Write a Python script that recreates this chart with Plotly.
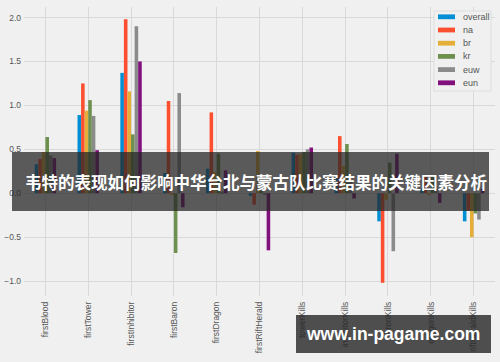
import plotly.graph_objects as go

categories = ["firstBlood", "firstTower", "firstInhibitor", "firstBaron", "firstDragon",
              "firstRiftHerald", "towerKills", "inhibitorKills", "baronKills",
              "dragonKills", "riftHeraldKills"]

series_names = ["overall", "na", "br", "kr", "euw", "eun"]
overall = [0.33, 0.89, 1.37, 0.23, 0.28, -0.03, 0.46, 0.18, -0.32, 0.05, -0.32]
na = [0.39, 1.25, 1.98, 1.05, 0.92, -0.13, 0.44, 0.65, -1.02, 0.21, -0.20]
br = [0.47, 0.94, 1.16, -0.02, 0.24, 0.48, 0.45, 0.31, -0.08, -0.02, -0.50]
kr = [0.64, 1.06, 0.67, -0.68, 0.45, 0.03, 0.47, 0.56, 0.35, 0.21, -0.23]
euw = [0.43, 0.88, 1.90, 1.14, 0.02, -0.02, 0.50, 0.15, -0.66, 0.05, -0.30]
eun = [0.40, 0.49, 1.50, -0.16, 0.26, -0.65, 0.52, -0.06, 0.45, -0.11, 0.05]
series_values = [overall, na, br, kr, euw, eun]
colors = ["#008fd5", "#fc4f30", "#e5ae38", "#6d904f", "#8b8b8b", "#810f7c"]

y_ticks = [-1.0, -0.5, 0.0, 0.5, 1.0, 1.5, 2.0]
banner_text = "韦特的表现如何影响中华台北与蒙古队比赛结果的关键因素分析"
watermark_text = "www.in-pagame.com"

W, H = 500, 362
ML, MR, MT, MB = 24, 5, 7, 66
PW = W - ML - MR
PH = H - MT - MB


def px(x):
    return (x - ML) / PW


def py(y):
    return (H - MB - y) / PH


fig = go.Figure()
for name, vals, col in zip(series_names, series_values, colors):
    fig.add_trace(go.Bar(x=categories, y=vals, name=name, marker_color=col,
                         marker_line_width=0, showlegend=False))

shapes = []
annotations = []

# legend (drawn manually to match compact matplotlib legend)
shapes.append(dict(type="rect", xref="paper", yref="paper",
                   x0=px(434), x1=px(491), y0=py(91), y1=py(11),
                   fillcolor="#f0f0f0", line=dict(color="#dedede", width=1), layer="above"))
for i, (name, col) in enumerate(zip(series_names, colors)):
    cy = 16.8 + i * 13.2
    shapes.append(dict(type="rect", xref="paper", yref="paper",
                       x0=px(438), x1=px(455), y0=py(cy + 2.4), y1=py(cy - 2.4),
                       fillcolor=col, line=dict(width=0), layer="above"))
    annotations.append(dict(text=name, xref="paper", yref="paper", x=px(461), y=py(cy),
                            xanchor="left", yanchor="middle", showarrow=False,
                            font=dict(size=9, color="#555555", family="Liberation Sans")))

# banner overlay
shapes.append(dict(type="rect", xref="paper", yref="paper",
                   x0=px(12), x1=px(489), y0=py(211), y1=py(152),
                   fillcolor="rgba(38,38,38,0.74)", line=dict(width=0), layer="above"))
annotations.append(dict(text="<b>" + banner_text + "</b>", xref="paper", yref="paper",
                        x=px(256), y=py(181.5), xanchor="center", yanchor="middle",
                        showarrow=False,
                        font=dict(size=16.5, color="white", family="Noto Sans CJK SC")))

# watermark
shapes.append(dict(type="rect", xref="paper", yref="paper",
                   x0=px(296), x1=px(491), y0=py(353), y1=py(315),
                   fillcolor="rgba(38,38,38,0.8)", line=dict(width=0), layer="above"))
annotations.append(dict(text="<b>" + watermark_text + "</b>", xref="paper", yref="paper",
                        x=px(393), y=py(334), xanchor="center", yanchor="middle",
                        showarrow=False,
                        font=dict(size=17.5, color="white", family="Liberation Sans")))

fig.update_layout(
    width=W, height=H, autosize=False,
    margin=dict(l=ML, r=MR, t=MT, b=MB, pad=0, autoexpand=False),
    paper_bgcolor="#f0f0f0", plot_bgcolor="#f0f0f0",
    barmode="group", bargap=0.5, bargroupgap=0,
    showlegend=False,
    shapes=shapes, annotations=annotations,
    font=dict(family="Liberation Sans", size=8.5, color="#555555"),
)
fig.update_xaxes(type="category", range=[-0.5, len(categories) - 0.5], automargin=False,
                 showgrid=True, gridcolor="#d9d9d9", gridwidth=1,
                 tickangle=-90, tickfont=dict(size=8.5, color="#555555"),
                 showline=False, zeroline=False, ticks="", ticklabelstandoff=3)
fig.update_yaxes(range=[-1.17, 2.12], tickvals=y_ticks, tickformat=".1f", automargin=False,
                 showgrid=True, gridcolor="#d9d9d9", gridwidth=1,
                 tickfont=dict(size=8.5, color="#555555"),
                 showline=False, zeroline=False, ticks="", ticklabelstandoff=2)

fig.write_html("out.html", config={"displayModeBar": False},
               post_script="document.body.style.margin='0';document.body.style.padding='0';"
                           "document.body.style.background='#f0f0f0';")
